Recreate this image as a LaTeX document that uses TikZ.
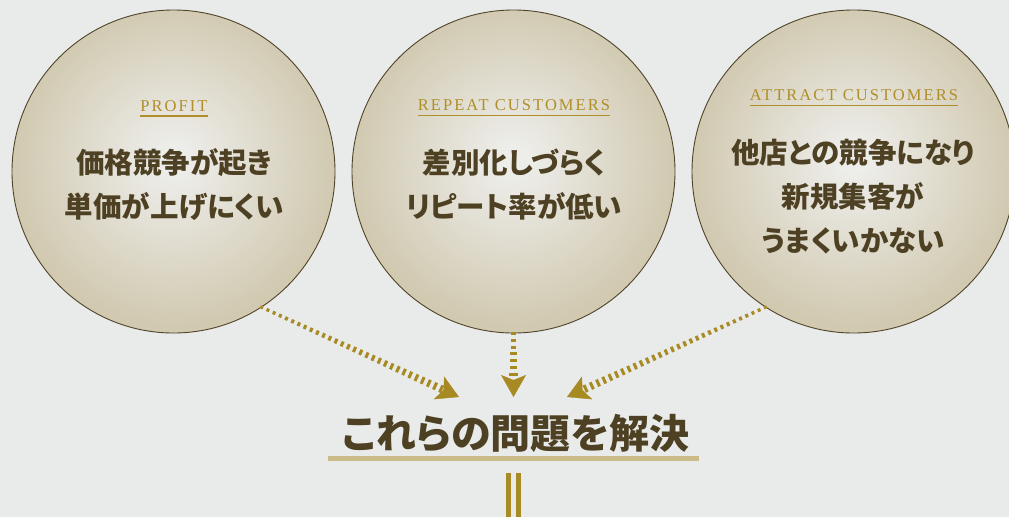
\documentclass[tikz,border=0pt]{standalone}
\usepackage{fontspec}
\usetikzlibrary{arrows.meta,decorations.markings,calc}
\newfontfamily\jpfont{Noto Sans CJK JP}[RawFeature=+palt]
\newfontfamily\lblfont{Liberation Serif}[LetterSpace=12.5]
\definecolor{bgcol}{HTML}{E9EBEA}
\definecolor{ballin}{HTML}{EDEDEA}
\definecolor{ballout}{HTML}{D1C9B0}
\definecolor{ringcol}{HTML}{4F4329}
\definecolor{inkcol}{HTML}{4D4023}
\definecolor{labelgold}{HTML}{B08E2A}
\definecolor{arrowgold}{HTML}{A88A22}
\definecolor{ulgold}{HTML}{CBBB88}
\definecolor{bargold}{HTML}{A88B25}
\pgfdeclareradialshading{ballshade}{\pgfpoint{0bp}{2bp}}{color(0bp)=(ballin); color(2bp)=(ballin); color(25bp)=(ballout); color(50bp)=(ballout)}
\tikzset{
  ballnode/.style={circle, draw=ringcol, line width=0.9pt, shading=ballshade, minimum size=323pt, inner sep=0pt},
  labeltext/.style={font=\lblfont\fontsize{16.5}{18}\selectfont, text=labelgold, inner sep=0pt, anchor=base},
  labelline/.style={draw=labelgold, line width=1.6pt},
  jptext/.style={font=\jpfont\bfseries\fontsize{28.5}{44}\selectfont, text=inkcol, align=center, inner sep=0pt},
  titletext/.style={font=\jpfont\bfseries\fontsize{40}{44}\selectfont, text=inkcol, inner sep=0pt},
  dotflow/.style 2 args={decoration={markings, mark=between positions 0 and 1 step 6.8pt with {%
      \pgfmathsetmacro\hw{#1+#2*\pgfkeysvalueof{/pgf/decoration/mark info/sequence number}}%
      \fill[arrowgold] (-1.5pt,-\hw pt) rectangle (1.5pt,\hw pt);}}, postaction=decorate},
  headflow/.style={decoration={markings, mark=at position 1 with {\arrow[arrowgold]{Stealth[length=22pt,width=25pt,inset=5pt]}}}, postaction=decorate}
}
\begin{document}
\begin{tikzpicture}[x=1pt,y=-1pt]
\fill[bgcol] (0,0) rectangle (1009,517);
\useasboundingbox (0,0) rectangle (1009,517);

\node[ballnode] (c1) at (173.5,171.5) {};
\node[ballnode] (c2) at (513.5,171.5) {};
\node[ballnode] (c3) at (853.5,171.5) {};

\node[labeltext] (l1) at (174,111) {PROFIT};
\node[labeltext] (l2) at (514,110.5) {REPEAT CUSTOMERS};
\node[labeltext] (l3) at (854,100.5) {ATTRACT CUSTOMERS};
\foreach \l in {l1,l2,l3}
  \draw[labelline] ([yshift=-4.8pt]\l.base west) -- ([yshift=-4.8pt]\l.base east);

\node[jptext] (t1) at (174,185) {価格競争が起き\\単価が上げにくい};
\node[jptext] (t2) at (514,185) {差別化しづらく\\リピート率が低い};
\node[jptext] (t3) at (853,197) {他店との競争になり\\新規集客が\\うまくいかない};

\node[titletext] (ttl) at (516,433.5) {これらの問題を解決};
\draw[ulgold, line width=5pt] (328,458.5) -- (699,458.5);

\fill[bargold] (505.7,473) rectangle (510.7,517);
\fill[bargold] (516.2,473) rectangle (521.2,517);

\coordinate (h1) at (459,397);
\coordinate (h2) at (513.5,397);
\coordinate (h3) at (567,397);

\path[dotflow={1.5}{0.08}] (c1.-57) -- ($(h1)!19pt!(c1.-57)$);
\path[headflow] ($(h1)!19pt!(c1.-57)$) -- (h1);
\path[dotflow={1.7}{0.33}] (c2.south) -- ($(h2)!19pt!(c2.south)$);
\path[headflow] ($(h2)!19pt!(c2.south)$) -- (h2);
\path[dotflow={1.5}{0.08}] (c3.-123) -- ($(h3)!19pt!(c3.-123)$);
\path[headflow] ($(h3)!19pt!(c3.-123)$) -- (h3);
\end{tikzpicture}
\end{document}
